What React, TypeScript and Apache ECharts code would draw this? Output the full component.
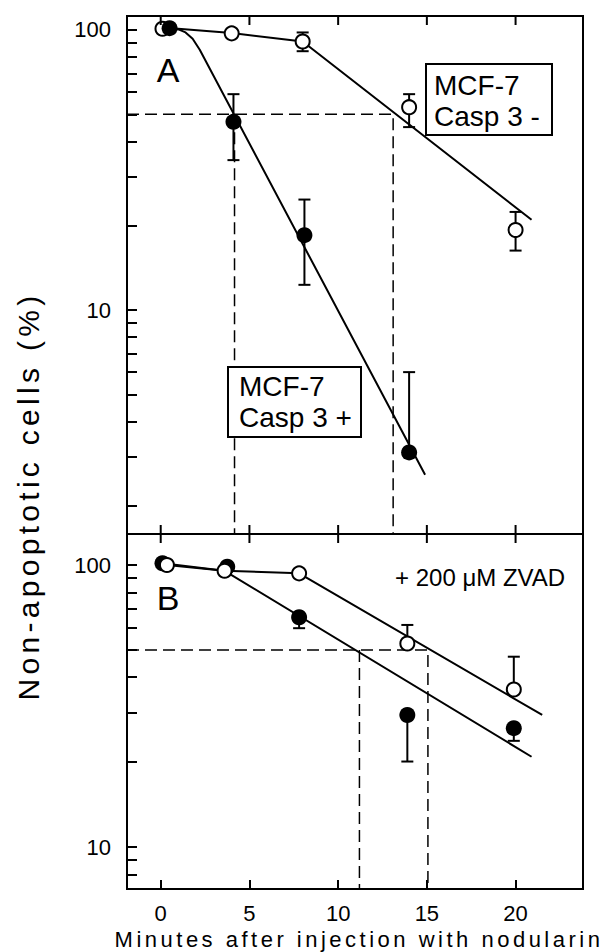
import React, { useEffect, useRef } from "react";
import * as echarts from "echarts";

// ---- data ----
const xTicks = [0, 5, 10, 15, 20];
const yTicksA = [2, 3, 4, 5, 6, 7, 8, 9, 10, 20, 30, 40, 50, 60, 70, 80, 90, 100];
const yTicksB = [8, 9, 10, 20, 30, 40, 50, 60, 70, 80, 90, 100];
const yLabels = [10, 100];

// Panel A (no inhibitor)
const openA = [[0.1, 101], [4, 97.3], [8, 91], [14, 53], [20, 19.3]];
const filledA = [[0.5, 101.5], [4.1, 47], [8.1, 18.5], [14, 3.1]];
// [x, mean, low, high]
const openAErr = [[8, 91, 84, 98], [14, 53, 45, 59], [20, 19.3, 16.3, 22.4]];
const filledAErr = [[4.1, 47, 34.3, 59], [8.1, 18.5, 12.3, 24.8], [14, 3.1, 3.1, 6.0]];
const fitOpenA = [[0.1, 102], [4, 97.5], [8, 91], [20.9, 21]];
const fitFilledA = [[0.5, 101.5], [1.0, 100.5], [1.4, 98], [1.8, 93], [2.2, 85], [14.9, 2.58]];
const halfTimesA = [4.16, 13.1];

// Panel B (+ 200 µM ZVAD)
const openB = [[0.35, 100], [3.6, 95.4], [7.8, 93.4], [13.9, 52.7], [19.9, 36.2]];
const filledB = [[0.1, 101.4], [3.75, 98.6], [7.8, 65.3], [13.9, 29.4], [19.9, 26.4]];
const openBErr = [[13.9, 52.7, 52.7, 61.3], [19.9, 36.2, 36.2, 47.3]];
const filledBErr = [[7.8, 65.3, 59.7, 65.3], [13.9, 29.4, 20.1, 29.4], [19.9, 26.4, 23.8, 26.4]];
const fitOpenB = [[0.35, 100], [3.6, 95.4], [7.8, 93.4], [21.5, 29.4]];
const fitFilledB = [[0.1, 101.4], [3.6, 95.4], [20.9, 20.9]];
const halfTimesB = [11.2, 15.06];

const halfLevel = 50;

// axis ranges
const X_MIN = -1.9;
const X_MAX = 23.8;
const YA_MIN = 1.585;
const YA_MAX = 112.2;
const YB_MIN = 7.1;
const YB_MAX = 128.8;

const FONT = "Liberation Sans, Arial, Helvetica, sans-serif";
const X_TITLE = "Minutes after injection with nodularin";
const Y_TITLE = "Non-apoptotic cells (%)";
const TICK_LEN = 9;

function renderErr(params: any, api: any) {
  const x = api.value(0);
  const y = api.value(1);
  const lo = api.value(2);
  const hi = api.value(3);
  const c = api.coord([x, y]);
  const cap = 6;
  const style = { stroke: "#000", lineWidth: 2 };
  const children: any[] = [];
  if (hi > y) {
    const t = api.coord([x, hi]);
    children.push({ type: "line", shape: { x1: c[0], y1: c[1], x2: t[0], y2: t[1] }, style });
    children.push({ type: "line", shape: { x1: t[0] - cap, y1: t[1], x2: t[0] + cap, y2: t[1] }, style });
  }
  if (lo < y) {
    const b = api.coord([x, lo]);
    children.push({ type: "line", shape: { x1: c[0], y1: c[1], x2: b[0], y2: b[1] }, style });
    children.push({ type: "line", shape: { x1: b[0] - cap, y1: b[1], x2: b[0] + cap, y2: b[1] }, style });
  }
  return { type: "group", children };
}

// inside x ticks on the frame edges of a panel (top, and optionally bottom)
function makeTickRenderer(withBottom: boolean) {
  return (params: any, api: any) => {
    const p = api.coord([api.value(0), api.value(1)]);
    const cs = params.coordSys;
    const top = cs.y;
    const bottom = cs.y + cs.height;
    const style = { stroke: "#000", lineWidth: 2 };
    const children: any[] = [
      { type: "line", shape: { x1: p[0], y1: top, x2: p[0], y2: top + TICK_LEN }, style },
    ];
    if (withBottom) {
      children.push({ type: "line", shape: { x1: p[0], y1: bottom, x2: p[0], y2: bottom - TICK_LEN }, style });
    }
    return { type: "group", children };
  };
}

function xAxisDef(gridIndex: number, labels: boolean) {
  return {
    type: "value",
    gridIndex,
    position: "bottom",
    min: X_MIN,
    max: X_MAX,
    axisLine: { show: true, onZero: false, lineStyle: { color: "#000", width: 2 } },
    axisTick: { show: labels, inside: true, length: TICK_LEN, customValues: xTicks, lineStyle: { color: "#000", width: 2 } },
    axisLabel: {
      show: labels,
      customValues: xTicks,
      margin: 13,
      color: "#000",
      fontSize: 22,
      fontFamily: FONT,
    },
    splitLine: { show: false },
  };
}

function yAxisDef(gridIndex: number, min: number, max: number, ticks: number[]) {
  return {
    type: "log",
    logBase: 10,
    gridIndex,
    min,
    max,
    axisLine: { show: true, onZero: false, lineStyle: { color: "#000", width: 2 } },
    axisTick: { show: true, inside: true, length: 10, customValues: ticks, lineStyle: { color: "#000", width: 2 } },
    axisLabel: {
      show: true,
      customValues: yLabels,
      margin: 16,
      color: "#000",
      fontSize: 22,
      fontFamily: FONT,
      formatter: (v: number) => String(Math.round(v)),
    },
    splitLine: { show: false },
  };
}

function fitLine(data: number[][], grid: number) {
  return {
    type: "line",
    xAxisIndex: grid,
    yAxisIndex: grid,
    data,
    symbol: "none",
    smooth: false,
    lineStyle: { color: "#000", width: 2 },
    z: 2,
    silent: true,
  };
}

function dashLine(data: number[][], grid: number) {
  return {
    type: "line",
    xAxisIndex: grid,
    yAxisIndex: grid,
    data,
    symbol: "none",
    lineStyle: { color: "#000", width: 1.5, type: [12, 6] },
    z: 1,
    silent: true,
  };
}

function errSeries(data: number[][], grid: number) {
  return {
    type: "custom",
    xAxisIndex: grid,
    yAxisIndex: grid,
    data,
    renderItem: renderErr,
    encode: { x: 0, y: 1 },
    z: 3,
    silent: true,
  };
}

function tickSeries(grid: number, yRef: number, withBottom: boolean) {
  return {
    type: "custom",
    xAxisIndex: grid,
    yAxisIndex: grid,
    data: xTicks.map((v) => [v, yRef]),
    renderItem: makeTickRenderer(withBottom),
    encode: { x: 0, y: 1 },
    clip: false,
    z: 6,
    silent: true,
  };
}

function dots(data: number[][], grid: number, open: boolean, z: number) {
  return {
    type: "scatter",
    xAxisIndex: grid,
    yAxisIndex: grid,
    data,
    symbol: "circle",
    symbolSize: open ? 14 : 16,
    itemStyle: open
      ? { color: "#fff", borderColor: "#000", borderWidth: 2, opacity: 1 }
      : { color: "#000", borderWidth: 0, opacity: 1 },
    z,
    silent: true,
  };
}

function applySpacing(dom: HTMLElement) {
  const texts = dom.querySelectorAll("text");
  texts.forEach((t: any) => {
    const s = (t.textContent || "").trim();
    if (s === X_TITLE) t.style.letterSpacing = "3.5px";
    if (s === Y_TITLE) t.style.letterSpacing = "4.3px";
  });
}

export default function App() {
  const ref = useRef<HTMLDivElement>(null);

  useEffect(() => {
    if (!ref.current) return;
    const chart = echarts.init(ref.current, null, { renderer: "svg" });

    const textStyle = (size: number, align: string) => ({
      fill: "#000",
      fontSize: size,
      fontFamily: FONT,
      align,
      verticalAlign: "middle",
    });

    const option: any = {
      animation: false,
      grid: [
        { left: 127, top: 16, width: 456, height: 518, show: true, borderColor: "#000", borderWidth: 2, backgroundColor: "transparent" },
        { left: 127, top: 534, width: 456, height: 355, show: true, borderColor: "#000", borderWidth: 2, backgroundColor: "transparent" },
      ],
      xAxis: [xAxisDef(0, false), xAxisDef(1, true)],
      yAxis: [yAxisDef(0, YA_MIN, YA_MAX, yTicksA), yAxisDef(1, YB_MIN, YB_MAX, yTicksB)],
      series: [
        dashLine([[X_MIN, halfLevel], [halfTimesA[1], halfLevel], [halfTimesA[1], YA_MIN]], 0),
        dashLine([[halfTimesA[0], halfLevel], [halfTimesA[0], YA_MIN]], 0),
        dashLine([[X_MIN, halfLevel], [halfTimesB[1], halfLevel], [halfTimesB[1], YB_MIN]], 1),
        dashLine([[halfTimesB[0], halfLevel], [halfTimesB[0], YB_MIN]], 1),
        fitLine(fitOpenA, 0),
        fitLine(fitFilledA, 0),
        fitLine(fitOpenB, 1),
        fitLine(fitFilledB, 1),
        errSeries(openAErr, 0),
        errSeries(filledAErr, 0),
        errSeries(openBErr, 1),
        errSeries(filledBErr, 1),
        dots(openA, 0, true, 4),
        dots(filledA, 0, false, 5),
        dots(filledB, 1, false, 4),
        dots(openB, 1, true, 5),
        tickSeries(0, YA_MIN, true),
        tickSeries(1, YB_MIN, false),
      ],
      graphic: [
        { type: "text", x: 168, y: 70, z: 100, style: { text: "A", ...textStyle(34, "center") } },
        { type: "text", x: 168, y: 598, z: 100, style: { text: "B", ...textStyle(34, "center") } },
        {
          type: "rect",
          z: 100,
          shape: { x: 426, y: 64, width: 126, height: 71 },
          style: { fill: "#fff", stroke: "#000", lineWidth: 2 },
        },
        { type: "text", x: 434, y: 85, z: 101, style: { text: "MCF-7", ...textStyle(28, "left") } },
        { type: "text", x: 434, y: 116, z: 101, style: { text: "Casp 3 -", ...textStyle(28, "left") } },
        {
          type: "rect",
          z: 100,
          shape: { x: 228, y: 367, width: 133, height: 70 },
          style: { fill: "#fff", stroke: "#000", lineWidth: 2 },
        },
        { type: "text", x: 239, y: 386.5, z: 101, style: { text: "MCF-7", ...textStyle(28, "left") } },
        { type: "text", x: 239, y: 417.5, z: 101, style: { text: "Casp 3 +", ...textStyle(28, "left") } },
        { type: "text", x: 395, y: 577, z: 100, style: { text: "+ 200 μM ZVAD", ...textStyle(24, "left") } },
        { type: "text", x: 359, y: 939, z: 100, style: { text: X_TITLE, ...textStyle(22, "center") } },
        {
          type: "text",
          x: 28,
          y: 496,
          rotation: Math.PI / 2,
          z: 100,
          style: { text: Y_TITLE, ...textStyle(30, "center") },
        },
      ],
    };

    chart.setOption(option);
    applySpacing(ref.current);
    const onFinished = () => ref.current && applySpacing(ref.current);
    chart.on("finished", onFinished);

    return () => {
      chart.off("finished", onFinished);
      chart.dispose();
    };
  }, []);

  return (
    <div
      ref={ref}
      style={{ position: "absolute", left: 0, top: 0, width: 607, height: 952, background: "#fff" }}
    />
  );
}
